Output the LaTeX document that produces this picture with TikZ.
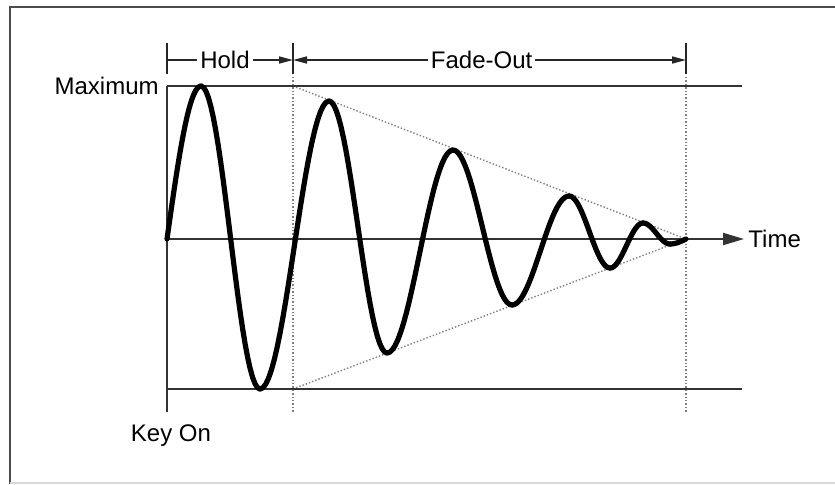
\documentclass[tikz,border=0pt]{standalone}
\usepackage{fontspec}
\setmainfont{Liberation Sans}
\usetikzlibrary{arrows.meta,positioning}

\begin{document}
\begin{tikzpicture}[x=0.5pt,y=-0.5pt,
  axis/.style={draw=black!80,line width=1pt},
  guide/.style={draw=black!50,densely dotted,line width=0.7pt},
  wave/.style={line width=2.6pt,line cap=round,line join=round},
  dim/.style={draw=black!85,line width=0.8pt},
  lbl/.style={font=\fontsize{12}{14}\selectfont,inner sep=2pt}]
  \useasboundingbox (0,0) rectangle (835,484);
  % frame
  \draw[black!70,line width=1.2pt] (10,484) -- (10,7) -- (835,7);
  \draw[black!15,line width=1pt] (10,483) -- (835,483);
  % levels and time marks
  \coordinate (keyon) at (167,239);
  \coordinate (maxl) at (167,86);
  \coordinate (maxr) at (742,86);
  \coordinate (minl) at (167,389);
  \coordinate (minr) at (742,389);
  \coordinate (base) at (167,412);
  \coordinate (holdhi) at (293,86);
  \coordinate (holdlo) at (293,389);
  \coordinate (fadeend) at (686,239);
  \coordinate (d0) at (167,60);
  \coordinate (d1) at (293,60);
  \coordinate (d2) at (686,60);
  % guides
  \draw[guide] (293,77) -- (293,412);
  \draw[guide] (686,77) -- (686,412);
  \draw[guide] (holdhi) -- (fadeend);
  \draw[guide] (holdlo) -- (fadeend);
  % axes
  \draw[axis] (maxl) -- (maxr);
  \draw[axis] (minl) -- (minr);
  \draw[axis] (maxl) -- (base);
  \node[lbl,anchor=west] (time) at (744,239) {Time};
  \draw[axis,-{Triangle[length=10.5pt,width=6pt]}] (keyon) -- (time);
  \node[lbl,left=2pt of maxl] (maxlbl) {Maximum};
  \node[lbl,below=4pt of base,xshift=2pt] (keylbl) {Key On};
  % hold / fade-out span
  \foreach \x in {167,293,686}
    \draw[dim] (\x,43) -- (\x,74);
  \draw[dim,-{Triangle[length=7pt,width=3.5pt]}] (d0) -- node[lbl,fill=white,inner sep=1.5pt,pos=0.46] (holdlbl) {Hold} (d1);
  \draw[dim,{Triangle[length=7pt,width=3.5pt]}-{Triangle[length=7pt,width=3.5pt]}] (d1) -- node[lbl,fill=white,inner sep=1.5pt,pos=0.48] (fadelbl) {Fade-Out} (d2);
  % waveform
  \draw[wave] plot[domain=0:90,samples=20] ({167+34*\x/90},{239-153*sin(\x)});
  \foreach \xa/\ya/\xb/\yb in {201/86/260/389, 260/389/329/101, 329/101/387/353,
      387/353/453/150, 453/150/512/305, 512/305/569/196, 569/196/610/268,
      610/268/643/223, 643/223/670/244}
    \draw[wave] plot[domain=0:180,samples=25] ({\xa+(\xb-\xa)*\x/180},{(\ya+\yb)/2+(\ya-\yb)/2*cos(\x)});
  \draw[wave] plot[domain=0:90,samples=10] ({670+16*\x/90},{239+5*cos(\x)});
\end{tikzpicture}
\end{document}
